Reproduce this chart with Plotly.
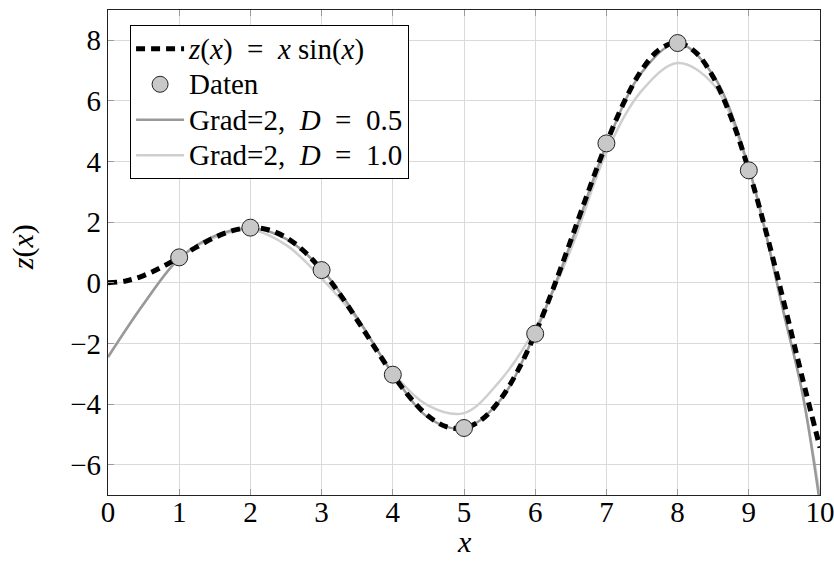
import plotly.graph_objects as go

# true function z(x) = x sin(x), sampled values
x_true = [0, 0.25, 0.5, 0.75, 1, 1.25, 1.5, 1.75, 2, 2.25, 2.5, 2.75, 3, 3.25, 3.5, 3.75,
          4, 4.25, 4.5, 4.75, 5, 5.25, 5.5, 5.75, 6, 6.25, 6.5, 6.75, 7, 7.25, 7.5, 7.75,
          8, 8.25, 8.5, 8.75, 9, 9.25, 9.5, 9.75, 10]
z_true = [0.0, 0.0619, 0.2397, 0.5112, 0.8415, 1.1862, 1.4962, 1.7220, 1.8186, 1.7507,
          1.4962, 1.0496, 0.4234, -0.3517, -1.2278, -2.1435, -3.0272, -3.8038, -4.3988,
          -4.7467, -4.7946, -4.5092, -3.8803, -2.9227, -1.6765, -0.2074, 1.3982, 3.0375,
          4.5989, 5.9675, 7.0350, 7.7082, 7.9149, 7.6131, 6.7873, 5.4661, 3.7091, 1.6123,
          -0.7144, -3.1151, -5.4402]

# data points
x_data = [1, 2, 3, 4, 5, 6, 7, 8, 9]
z_data = [0.84, 1.82, 0.42, -3.03, -4.79, -1.68, 4.60, 7.91, 3.71]

# fitted curves
x_fit = [0, 0.5, 1, 1.5, 2, 2.5, 3, 3.5, 4, 4.5, 5, 5.5, 6, 6.5, 7, 7.5, 8, 8.5, 9, 9.5, 9.75, 10]
z_fit_05 = [-2.45, -0.7, 0.8, 1.55, 1.8, 1.45, 0.45, -1.15, -3.0, -4.45, -4.8, -3.9, -1.65,
            1.3, 4.55, 6.95, 7.9, 6.85, 3.8, -1.1, -3.6, -7.3]
z_fit_10 = [-2.45, -0.7, 0.8, 1.5, 1.75, 1.25, 0.15, -1.2, -2.95, -4.05, -4.3, -3.25, -1.5,
            1.1, 4.3, 6.35, 7.25, 6.55, 3.75, -1.05, -3.6, -7.05]

x_ticks = [0, 1, 2, 3, 4, 5, 6, 7, 8, 9, 10]
y_ticks = [-6, -4, -2, 0, 2, 4, 6, 8]

FONT = "Liberation Serif"
EN = "\u2002"


def big(s):
    return f'<span style="font-size:29px">{s}</span>'


fig = go.Figure()
fig.add_trace(go.Scatter(x=x_fit, y=z_fit_10, mode="lines",
                         name=big(f"Grad=2,{EN}<i>D</i>{EN}={EN}1.0"),
                         line=dict(color="#cfcfcf", width=2.5, shape="spline"), legendrank=4))
fig.add_trace(go.Scatter(x=x_fit, y=z_fit_05, mode="lines",
                         name=big(f"Grad=2,{EN}<i>D</i>{EN}={EN}0.5"),
                         line=dict(color="#999999", width=2.5, shape="spline"), legendrank=3))
fig.add_trace(go.Scatter(x=x_true, y=z_true, mode="lines",
                         name=big(f"<i>z</i>(<i>x</i>){EN}={EN}<i>x</i> sin(<i>x</i>)"),
                         line=dict(color="black", width=5, dash="9px,6px", shape="spline"),
                         legendrank=1))
fig.add_trace(go.Scatter(x=x_data, y=z_data, mode="markers", name=big("Daten"),
                         marker=dict(size=17, color="#c8c8c8", line=dict(color="#222222", width=1)),
                         legendrank=2))

axis_common = dict(
    showgrid=True, gridcolor="#dadada", gridwidth=1,
    showline=True, linecolor="#222222", linewidth=1.2, mirror="ticks",
    ticks="inside", ticklen=6, tickcolor="#9a9a9a", tickwidth=1,
    zeroline=False, automargin=False, ticklabeloverflow="allow",
    tickfont=dict(family=FONT, size=29, color="black"),
)

fig.update_xaxes(range=[0, 10], tickvals=x_ticks, ticklabelstandoff=-9, **axis_common)
fig.update_yaxes(range=[-7, 9], tickvals=y_ticks, **axis_common)

fig.add_annotation(text="<i>x</i>", xref="paper", yref="paper", x=0.5, y=-0.134,
                   xanchor="center", yanchor="bottom", showarrow=False,
                   font=dict(family=FONT, size=30, color="black"))
fig.add_annotation(text="<i>z</i>(<i>x</i>)", xref="paper", yref="paper", x=-0.12, y=0.51,
                   xanchor="center", yanchor="middle", showarrow=False, textangle=-90,
                   font=dict(family=FONT, size=30, color="black"))

fig.update_layout(
    width=834, height=561,
    margin=dict(l=108, r=14, t=10, b=66),
    plot_bgcolor="white", paper_bgcolor="white",
    font=dict(family=FONT, color="black"),
    legend=dict(x=0.031, y=0.969, xanchor="left", yanchor="top",
                bgcolor="white", bordercolor="black", borderwidth=1,
                font=dict(family=FONT, size=25, color="black"),
                itemwidth=48, tracegroupgap=0),
    showlegend=True,
)

# remove the default 8px body margin so the figure fills the window exactly
fig.write_html("out.html", config={"displayModeBar": False},
               post_script="document.body.style.margin='0';")
